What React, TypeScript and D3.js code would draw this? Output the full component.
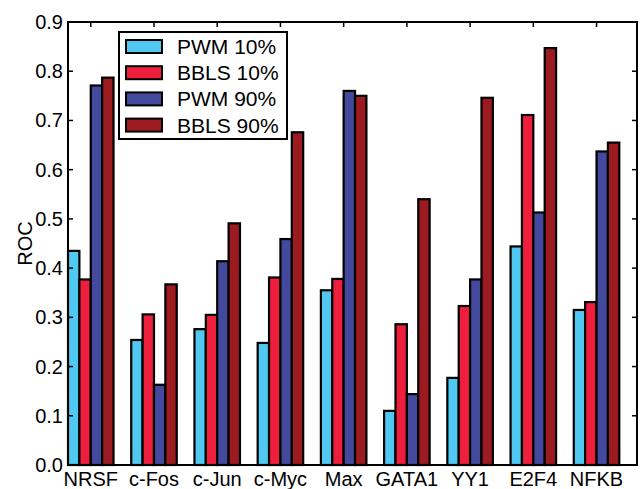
import React, { useEffect, useRef } from 'react'
import * as d3 from 'd3'

// data
const factors = ['NRSF', 'c-Fos', 'c-Jun', 'c-Myc', 'Max', 'GATA1', 'YY1', 'E2F4', 'NFKB']
const seriesNames = ['PWM 10%', 'BBLS 10%', 'PWM 90%', 'BBLS 90%']
const pwm10 = [0.435, 0.254, 0.276, 0.248, 0.355, 0.110, 0.177, 0.444, 0.315]
const bbls10 = [0.377, 0.306, 0.305, 0.381, 0.378, 0.286, 0.323, 0.711, 0.331]
const pwm90 = [0.771, 0.163, 0.414, 0.459, 0.760, 0.144, 0.377, 0.513, 0.637]
const bbls90 = [0.787, 0.367, 0.491, 0.676, 0.750, 0.540, 0.746, 0.847, 0.655]
const yTicks = [0, 0.1, 0.2, 0.3, 0.4, 0.5, 0.6, 0.7, 0.8, 0.9]
const colors = ['#50c8f1', '#ee1f3c', '#434a9e', '#9b1b21']

const W = 640
const H = 489
const FONT = 'Liberation Sans, Arial, Helvetica, sans-serif'

export default function App() {
  const ref = useRef<SVGSVGElement>(null)

  useEffect(() => {
    const svg = d3.select(ref.current)
    svg.selectAll('*').remove()

    const left = 68, right = 637, top = 22, bottom = 465
    const barW = 0.18
    const series = [pwm10, bbls10, pwm90, bbls90]

    const x = d3.scaleLinear().domain([0, 9]).range([left, right])
    const y = d3.scaleLinear().domain([0, 0.9]).range([bottom, top])

    // bars
    series.forEach((vals, j) => {
      svg.append('g')
        .selectAll('rect')
        .data(vals)
        .enter()
        .append('rect')
        .attr('x', (d, i) => x(i + j * barW))
        .attr('y', d => y(d))
        .attr('width', x(barW) - x(0))
        .attr('height', d => y(0) - y(d))
        .attr('fill', colors[j])
        .attr('stroke', '#000')
        .attr('stroke-width', 2.2)
    })

    // ticks, pointing inward on all four sides
    const tickLen = 5
    const ticks = svg.append('g').attr('stroke', '#000').attr('stroke-width', 1.5)
    yTicks.forEach(t => {
      ticks.append('line').attr('x1', left).attr('x2', left + tickLen).attr('y1', y(t)).attr('y2', y(t))
      ticks.append('line').attr('x1', right).attr('x2', right - tickLen).attr('y1', y(t)).attr('y2', y(t))
    })
    factors.forEach((f, i) => {
      const cx = x(i + 2 * barW)
      ticks.append('line').attr('x1', cx).attr('x2', cx).attr('y1', top).attr('y2', top + tickLen)
      ticks.append('line').attr('x1', cx).attr('x2', cx).attr('y1', bottom).attr('y2', bottom - tickLen)
    })

    // frame
    svg.append('rect')
      .attr('x', left).attr('y', top)
      .attr('width', right - left).attr('height', bottom - top)
      .attr('fill', 'none').attr('stroke', '#000').attr('stroke-width', 2)

    // tick labels
    svg.append('g')
      .selectAll('text')
      .data(yTicks)
      .enter()
      .append('text')
      .attr('x', left - 5)
      .attr('y', d => y(d) + 7)
      .attr('text-anchor', 'end')
      .attr('font-family', FONT)
      .attr('font-size', 20)
      .text(d => d3.format('.1f')(d))

    svg.append('g')
      .selectAll('text')
      .data(factors)
      .enter()
      .append('text')
      .attr('x', (d, i) => x(i + 2 * barW))
      .attr('y', bottom + 21)
      .attr('text-anchor', 'middle')
      .attr('font-family', FONT)
      .attr('font-size', 20)
      .text(d => d)

    svg.append('text')
      .attr('transform', 'translate(32,' + (top + bottom) / 2 + ') rotate(-90)')
      .attr('text-anchor', 'middle')
      .attr('font-family', FONT)
      .attr('font-size', 20)
      .text('ROC')

    // legend
    const lg = svg.append('g')
    lg.append('rect')
      .attr('x', 119).attr('y', 32).attr('width', 168).attr('height', 107)
      .attr('fill', '#fff').attr('stroke', '#000').attr('stroke-width', 2)
    seriesNames.forEach((name, j) => {
      const cy = 46.5 + j * 26.2
      lg.append('rect')
        .attr('x', 126).attr('y', cy - 6.5).attr('width', 36).attr('height', 13)
        .attr('fill', colors[j]).attr('stroke', '#000').attr('stroke-width', 2)
      lg.append('text')
        .attr('x', 177).attr('y', cy + 7.5)
        .attr('font-family', FONT)
        .attr('font-size', 21)
        .text(name)
    })
  }, [])

  return (
    <svg ref={ref} width={W} height={H}
      style={{ position: 'absolute', left: 0, top: 0, background: '#fff' }} />
  )
}
